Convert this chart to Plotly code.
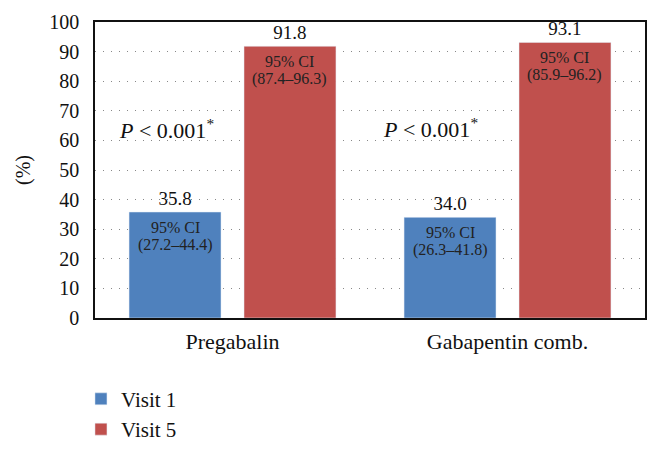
import plotly.graph_objects as go

categories = ["Pregabalin", "Gabapentin comb."]
visit1 = [35.8, 34.0]
visit5 = [91.8, 93.1]
ci_visit1 = ["(27.2–44.4)", "(26.3–41.8)"]
ci_visit5 = ["(87.4–96.3)", "(85.9–96.2)"]
p_labels = ["<i>P</i> < 0.001<sup>*</sup>", "<i>P</i> < 0.001<sup>*</sup>"]
p_y = [63.7, 64.2]
p_xoff = [-0.24, -0.28]
y_ticks = list(range(0, 101, 10))

BLUE = "#4F81BD"
RED = "#C0504D"
FONT = "Liberation Serif"

fig = go.Figure()
fig.add_trace(go.Bar(x=categories, y=visit1, name="Visit 1", marker_color=BLUE,
                     text=[f"{v:.1f}" for v in visit1], textposition="outside",
                     textfont=dict(size=19, color="#111", family=FONT), cliponaxis=False))
fig.add_trace(go.Bar(x=categories, y=visit5, name="Visit 5", marker_color=RED,
                     text=[f"{v:.1f}" for v in visit5], textposition="outside",
                     textfont=dict(size=19, color="#111", family=FONT), cliponaxis=False))

# CI annotations inside bars
for i in range(len(categories)):
    for vals, cis, off in ((visit1, ci_visit1, -0.209), (visit5, ci_visit5, 0.209)):
        fig.add_annotation(x=i + off, y=vals[i], xref="x", yref="y",
                           text="95% CI", showarrow=False,
                           yanchor="middle", yshift=-15,
                           font=dict(size=16, color="#222", family=FONT))
        fig.add_annotation(x=i + off, y=vals[i], xref="x", yref="y",
                           text=cis[i], showarrow=False,
                           yanchor="middle", yshift=-33,
                           font=dict(size=16, color="#222", family=FONT))
    fig.add_annotation(x=i + p_xoff[i], y=p_y[i], xref="x", yref="y",
                       text=p_labels[i], showarrow=False,
                       font=dict(size=22, color="#111", family=FONT))

fig.update_layout(
    width=659, height=462,
    margin=dict(l=95, r=14, t=22, b=132),
    paper_bgcolor="white", plot_bgcolor="white",
    barmode="group", bargap=0.164, bargroupgap=0.2,
    font=dict(family=FONT, size=18, color="#111"),
    showlegend=True,
    legend=dict(x=-0.0255, y=-0.205, xanchor="left", yanchor="top",
                orientation="v", font=dict(size=21, family=FONT),
                tracegroupgap=0, itemwidth=30),
    xaxis=dict(showline=True, linecolor="#111", linewidth=1.5, mirror=True,
               automargin=False, ticklabelstandoff=3,
               ticks="", showgrid=False, tickfont=dict(size=22, family=FONT)),
    yaxis=dict(range=[0, 100], tickvals=y_ticks, showline=True, linecolor="#111",
               linewidth=1.5, mirror=True, ticks="", showgrid=True,
               automargin=False,
               gridcolor="#888", griddash="1px,7px", gridwidth=1.3,
               zeroline=False, ticklabelstandoff=10,
               tickfont=dict(size=20, family=FONT),
               title=dict(text="(%)", font=dict(size=20, family=FONT), standoff=13)),
)

fig.write_html(
    "out.html", config={"displayModeBar": False},
    post_script=("document.body.style.margin='0px';"
                 "document.body.style.overflow='hidden';"
                 "document.documentElement.style.overflow='hidden';"))
